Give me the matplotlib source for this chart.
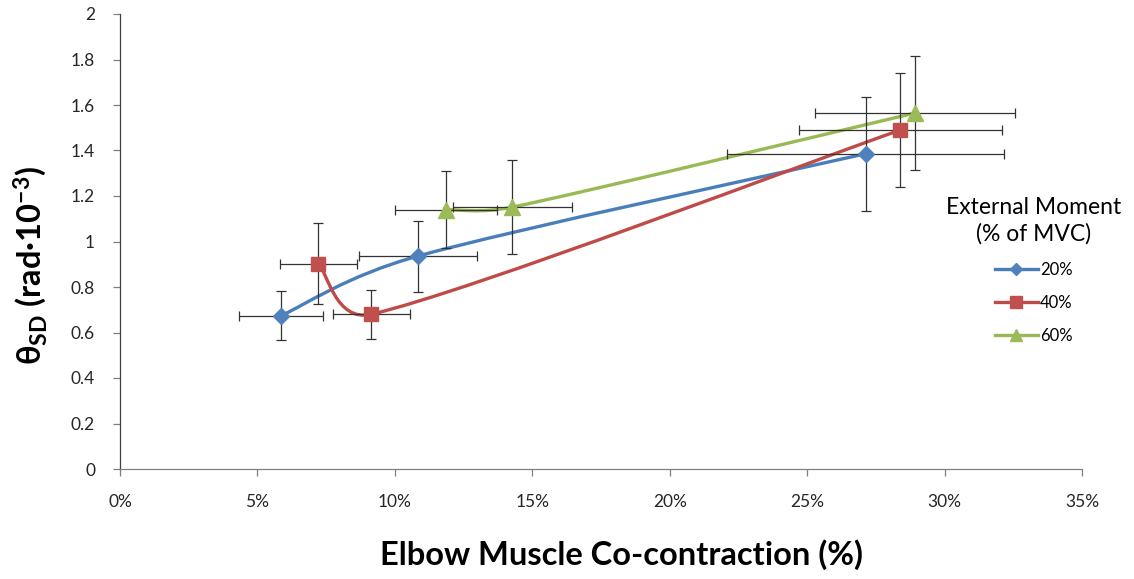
import numpy as np
import matplotlib
matplotlib.use('Agg')
import matplotlib.pyplot as plt
from matplotlib.path import Path
from matplotlib.patches import PathPatch
from matplotlib.lines import Line2D
from matplotlib.ticker import FuncFormatter

plt.rcParams['font.family'] = ['Lato', 'DejaVu Sans']
plt.rcParams['mathtext.fontset'] = 'custom'
plt.rcParams['mathtext.rm'] = 'Lato:bold'
plt.rcParams['mathtext.it'] = 'Lato:bold'
plt.rcParams['mathtext.bf'] = 'Lato:bold'

# co-contraction (%) and theta_SD with their SDs, one set per external moment
labels = ['20%', '40%', '60%']

x20 = [5.86, 10.84, 27.14]
y20 = [0.674, 0.936, 1.386]
xe20 = [1.52, 2.16, 5.04]
ye20 = [0.108, 0.156, 0.25]

x40 = [7.22, 9.14, 28.39]
y40 = [0.903, 0.680, 1.490]
xe40 = [1.39, 1.40, 3.69]
ye40 = [0.179, 0.109, 0.252]

x60 = [11.87, 14.27, 28.93]
y60 = [1.140, 1.151, 1.565]
xe60 = [1.85, 2.17, 3.65]
ye60 = [0.17, 0.208, 0.25]

line_colors = ['#4A7EBB', '#BE4B48', '#98B954']
marker_colors = ['#4F81BD', '#C0504D', '#9BBB59']
markers = ['D', 's', '^']
msizes = [8, 10, 11]


def excel_smooth(ax, xs, ys):
    """Bezier path through the points, built the way spreadsheet 'smoothed lines' are."""
    pts = ax.transData.transform(np.column_stack([xs, ys]))
    n = len(pts)
    verts = [pts[0]]
    codes = [Path.MOVETO]
    for i in range(n - 1):
        p0 = pts[max(i - 1, 0)]
        p1 = pts[i]
        p2 = pts[i + 1]
        p3 = pts[min(i + 2, n - 1)]
        d12 = np.hypot(*(p2 - p1))
        d02 = np.hypot(*(p2 - p0))
        d13 = np.hypot(*(p3 - p1))
        f1 = 1 / 6 if d02 / 6 < d12 / 2 else d12 / 2 / d02
        f2 = 1 / 6 if d13 / 6 < d12 / 2 else d12 / 2 / d13
        b1 = p1 + (p2 - p0) * f1
        b2 = p2 - (p3 - p1) * f2
        verts += [b1, b2, p2]
        codes += [Path.CURVE4] * 3
    verts = ax.transData.inverted().transform(np.array(verts))
    return Path(verts, codes)


fig = plt.figure(figsize=(11.34, 5.79), dpi=100)
ax = fig.add_axes([120 / 1134, 110 / 579, 962 / 1134, 455 / 579])
ax.set_xlim(0, 35)
ax.set_ylim(0, 2)

series = [(x20, y20, xe20, ye20), (x40, y40, xe40, ye40), (x60, y60, xe60, ye60)]
handles = []
for k, (xs, ys, xe, ye) in enumerate(series):
    path = excel_smooth(ax, xs, ys)
    ax.add_patch(PathPatch(path, facecolor='none', edgecolor=line_colors[k],
                           lw=2.4, zorder=2, capstyle='round', joinstyle='round'))
    ax.errorbar(xs, ys, xerr=xe, yerr=ye, fmt='none', ecolor='#333333',
                elinewidth=0.9, capsize=3.5, capthick=0.9, zorder=3)
    ax.plot(xs, ys, ls='none', marker=markers[k], ms=msizes[k],
            color=marker_colors[k], mec=marker_colors[k], zorder=4)
    handles.append(Line2D([], [], color=line_colors[k], lw=2.4, marker=markers[k],
                          ms=msizes[k] * 0.8, mfc=marker_colors[k], mec=marker_colors[k]))

ax.set_xticks(np.arange(0, 36, 5))
ax.set_yticks(np.arange(0, 2.01, 0.2))
ax.xaxis.set_major_formatter(FuncFormatter(lambda v, p: '%d%%' % round(v)))
ax.yaxis.set_major_formatter(FuncFormatter(lambda v, p: '%g' % round(v, 1)))
ax.tick_params(direction='out', length=5, width=0.9, color='#7F7F7F',
               labelsize=12.5, labelcolor='#262626')
ax.tick_params(axis='x', pad=13)
ax.tick_params(axis='y', pad=13)
for s in ['top', 'right']:
    ax.spines[s].set_visible(False)
ax.spines['left'].set_color('#404040')
ax.spines['bottom'].set_color('#808080')
ax.spines['left'].set_linewidth(0.9)
ax.spines['bottom'].set_linewidth(0.9)

fig.text(621 / 1134, 1 - 555 / 579, 'Elbow Muscle Co-contraction (%)', ha='center',
         va='center', fontsize=23.5, fontweight='bold')
fig.text(30 / 1134, 1 - 265 / 579, r'θ$_{\mathrm{SD}}$ (rad·10$^{\mathrm{-3}}$)',
         rotation=90, ha='center', va='center', fontsize=23.5, fontweight='bold')

leg = fig.legend(handles, labels, loc='upper left', bbox_to_anchor=(931 / 1134, 1 - 182 / 579),
                 frameon=False, fontsize=12, title='External Moment\n(% of MVC)',
                 title_fontsize=16.5, handlelength=2.6, labelspacing=1.02, handletextpad=0.1)
leg._legend_box.align = 'center'
leg.get_title().set_multialignment('center')
leg.get_title().set_linespacing(1.3)

fig.savefig('out.png', dpi=100)
